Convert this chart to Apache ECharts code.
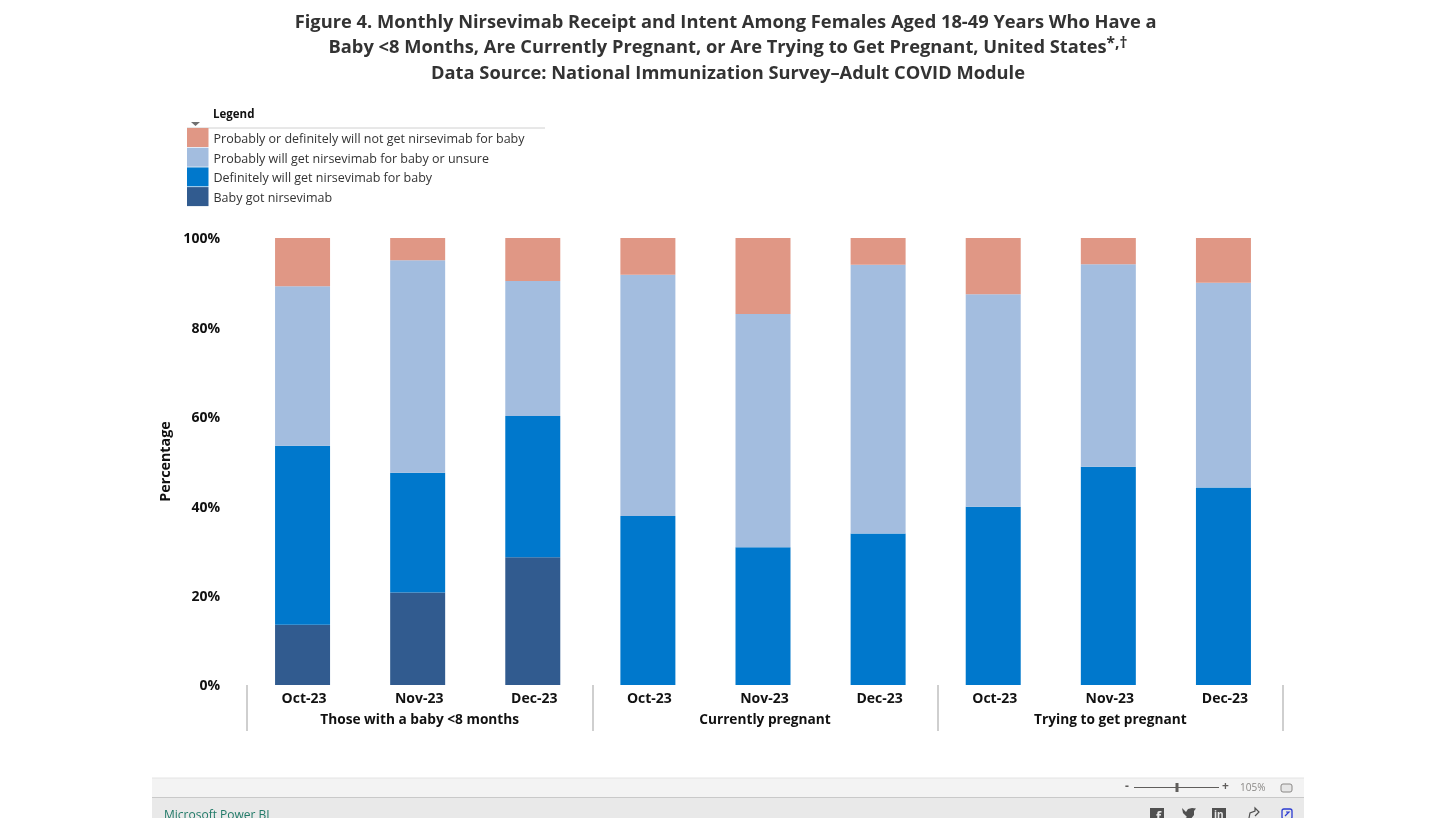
<!DOCTYPE html>
<html>
<head>
<meta charset="utf-8">
<style>
  html, body { margin: 0; padding: 0; background: #fff; }
  #chart { width: 1456px; height: 818px; }
</style>
<script src="https://cdn.jsdelivr.net/npm/echarts@6/dist/echarts.min.js"></script>
</head>
<body>
<div id="chart"></div>
<script>
const FONT = '"Open Sans", "Noto Sans", sans-serif'

// categories
const months = ['Oct-23', 'Nov-23', 'Dec-23', 'Oct-23', 'Nov-23', 'Dec-23', 'Oct-23', 'Nov-23', 'Dec-23']
const groups = ['Those with a baby <8 months', 'Currently pregnant', 'Trying to get pregnant']
const yTicks = [0, 20, 40, 60, 80, 100]

// series values, % of each bar
const babyGot = [13.5, 20.7, 28.6, 0, 0, 0, 0, 0, 0]
const definitelyWill = [40.0, 26.8, 31.6, 37.8, 30.8, 33.9, 39.9, 48.8, 44.2]
const probablyWill = [35.7, 47.5, 30.2, 54.0, 52.2, 60.1, 47.5, 45.3, 45.8]
const willNot = [10.8, 5.0, 9.6, 8.2, 17.0, 6.0, 12.6, 5.9, 10.0]

const names = {
  got: 'Baby got nirsevimab',
  def: 'Definitely will get nirsevimab for baby',
  prob: 'Probably will get nirsevimab for baby or unsure',
  not: 'Probably or definitely will not get nirsevimab for baby'
}

function barSeries(name, data, color) {
  return {
    name: name,
    type: 'bar',
    stack: 'total',
    barWidth: 55,
    data: data,
    itemStyle: { color: color },
    emphasis: { disabled: true }
  }
}

// Power BIのフッター部分
function footerParts() {
  const grey = '#605e5c'
  const icon = '#505050'
  const text = (x, y, t, size, color, weight) => ({
    type: 'text', x: x, y: y,
    style: { text: t, fontFamily: FONT, fontSize: size, fill: color, fontWeight: weight || 'normal', verticalAlign: 'middle' }
  })
  return [
    { type: 'rect', shape: { x: 152, y: 778, width: 1152, height: 19 }, style: { fill: '#f3f3f3' } },
    { type: 'rect', shape: { x: 152, y: 797, width: 1152, height: 21 }, style: { fill: '#e9e9e9' } },
    { type: 'line', shape: { x1: 152, y1: 778, x2: 1304, y2: 778 }, style: { stroke: '#e4e4e4', lineWidth: 1 } },
    { type: 'line', shape: { x1: 152, y1: 797.5, x2: 1304, y2: 797.5 }, style: { stroke: '#c9c9c9', lineWidth: 1 } },
    text(164, 816, 'Microsoft Power BI', 12, '#217a68'),
    text(1125, 787, '-', 12, grey, 'bold'),
    { type: 'line', shape: { x1: 1134, y1: 787.5, x2: 1219, y2: 787.5 }, style: { stroke: grey, lineWidth: 1 } },
    { type: 'rect', shape: { x: 1175.5, y: 783, width: 3, height: 9 }, style: { fill: grey } },
    text(1222, 787, '+', 12, grey, 'bold'),
    text(1240, 788, '105%', 10, '#8a8886'),
    { type: 'rect', shape: { x: 1281, y: 784, width: 11, height: 8, r: 2 }, style: { fill: '#e6e6e6', stroke: '#8a8886', lineWidth: 1 } },
    // シェア用アイコン
    { type: 'rect', shape: { x: 1150, y: 808, width: 14, height: 14 }, style: { fill: icon } },
    text(1156, 817, 'f', 13, '#e9e9e9', 'bold'),
    { type: 'polygon', shape: { points: [[1182, 808], [1186, 812], [1188, 809], [1192, 808], [1196, 808.5], [1194, 811], [1194, 815], [1190, 820], [1183, 820], [1187, 817], [1183, 813]] }, style: { fill: icon } },
    { type: 'rect', shape: { x: 1212, y: 808, width: 14, height: 14 }, style: { fill: icon } },
    text(1214, 815, 'in', 10, '#e9e9e9', 'bold'),
    { type: 'polyline', shape: { points: [[1249, 818], [1250, 813], [1255, 811], [1255, 808], [1259, 812], [1255, 816]] }, style: { stroke: icon, fill: 'none', lineWidth: 1.2 } },
    { type: 'rect', shape: { x: 1282, y: 809, width: 10, height: 10, r: 2 }, style: { fill: 'none', stroke: '#2b3bd1', lineWidth: 1.3 } },
    { type: 'polyline', shape: { points: [[1285, 816], [1289, 812], [1286, 812]] }, style: { stroke: '#2b3bd1', fill: 'none', lineWidth: 1.2 } }
  ]
}

const chart = echarts.init(document.getElementById('chart'))

chart.setOption({
  animation: false,
  textStyle: { fontFamily: FONT },
  title: {
    left: 728,
    top: 10,
    padding: 0,
    textAlign: 'center',
    text: 'Figure 4. Monthly Nirsevimab Receipt and Intent Among Females Aged 18-49 Years Who Have a \n' +
      'Baby <8 Months, Are Currently Pregnant, or Are Trying to Get Pregnant, United States{sup|*,†}\n' +
      'Data Source: National Immunization Survey–Adult COVID Module',
    textStyle: {
      fontFamily: FONT,
      fontSize: 18.3,
      fontWeight: 'bold',
      color: '#333',
      lineHeight: 25.5,
      rich: {
        sup: { fontFamily: FONT, fontSize: 15.5, fontWeight: 'bold', color: '#333', lineHeight: 25.5, padding: [0, 0, 10, 0] }
      }
    }
  },
  legend: {
    orient: 'vertical',
    left: 187,
    top: 128,
    padding: 0,
    itemWidth: 21.5,
    itemHeight: 19,
    itemGap: 0.7,
    icon: 'rect',
    selectedMode: false,
    data: [names.not, names.prob, names.def, names.got],
    formatter: name => '{t|' + name + '}',
    textStyle: {
      fontFamily: FONT,
      fontSize: 12.5,
      color: '#333',
      rich: { t: { fontFamily: FONT, fontSize: 12.5, color: '#333', padding: [4, 0, 0, 0] } }
    }
  },
  // 棒は月ラベルより少し左にあるのでグリッドを分ける
  grid: [
    { left: 245, right: 175, top: 238, bottom: 133 },
    { left: 247, right: 173, top: 238, bottom: 133 }
  ],
  xAxis: [
    {
      type: 'category',
      gridIndex: 0,
      data: months,
      axisLine: { show: false },
      axisTick: { show: false },
      axisLabel: { interval: 0, margin: 7, padding: [0, 0, 0, 3], fontFamily: FONT, fontSize: 14, fontWeight: 'bold', color: '#111' }
    },
    {
      // 2段目の軸 グループ名と区切り線
      type: 'category',
      gridIndex: 1,
      position: 'bottom',
      data: groups,
      axisLine: { show: false },
      axisTick: { show: true, alignWithLabel: false, length: 46, lineStyle: { color: '#cfcfcf', width: 2 } },
      axisLabel: { interval: 0, margin: 28, fontFamily: FONT, fontSize: 13.7, fontWeight: 'bold', color: '#111' }
    }
  ],
  yAxis: [
    {
      type: 'value',
      gridIndex: 0,
      min: yTicks[0],
      max: yTicks[yTicks.length - 1],
      interval: 20,
      name: 'Percentage',
      nameLocation: 'middle',
      nameGap: 72,
      nameTextStyle: { fontFamily: FONT, fontSize: 14.3, fontWeight: 'bold', color: '#111' },
      axisLine: { show: false },
      axisTick: { show: false },
      splitLine: { show: false },
      axisLabel: {
        margin: 25,
        formatter: '{t|{value}%}',
        rich: { t: { fontFamily: FONT, fontSize: 14, fontWeight: 'bold', color: '#111', padding: [3, 0, 0, 0] } }
      }
    },
    { type: 'value', gridIndex: 1, show: false, min: 0, max: 100 }
  ],
  series: [
    barSeries(names.got, babyGot, '#315b8f'),
    barSeries(names.def, definitelyWill, '#0078cc'),
    barSeries(names.prob, probablyWill, '#a3bddf'),
    barSeries(names.not, willNot, '#e09785')
  ],
  graphic: {
    elements: [
      { type: 'text', x: 213, y: 115, style: { text: 'Legend', fontFamily: FONT, fontSize: 11.5, fontWeight: 'bold', fill: '#111', verticalAlign: 'middle' } },
      { type: 'line', shape: { x1: 187, y1: 128, x2: 545, y2: 128 }, style: { stroke: '#d0d0d0', lineWidth: 1 } },
      { type: 'polygon', shape: { points: [[191, 122], [200, 122], [195.5, 126]] }, style: { fill: '#707070' } }
    ].concat(footerParts())
  }
})
</script>
</body>
</html>
